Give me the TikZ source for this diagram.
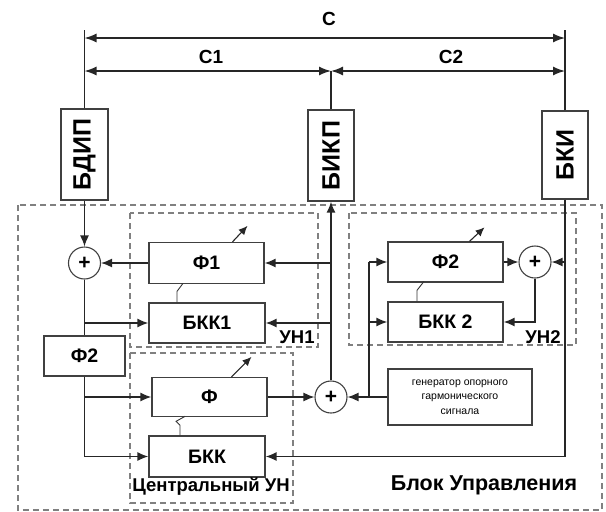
\documentclass[tikz,border=0pt]{standalone}
\usepackage{fontspec}
\setmainfont{Liberation Sans}
\usetikzlibrary{arrows.meta}
\begin{document}
\begin{tikzpicture}[x=1pt,y=-1pt,
  ln/.style={draw=black!85, line width=1.4pt},
  ar/.style={ln, -{Latex[length=11pt,width=9pt]}},
  dimar/.style={ln, {Latex[length=12pt,width=9pt]}-{Latex[length=12pt,width=9pt]}},
  tun/.style={draw=black!85, line width=1.1pt, -{Latex[length=9pt,width=8pt]}},
  sq/.style={draw=black!80, line width=0.9pt},
  blk/.style={draw=black!75, line width=1.3pt, fill=white, inner sep=0pt, font=\bfseries\fontsize{19.5}{20}\selectfont},
  vblk/.style={blk, rotate=90, font=\bfseries\fontsize{25}{26}\selectfont},
  sm/.style={draw=black!75, line width=1.1pt, circle, minimum size=32pt, inner sep=0pt, fill=white, font=\bfseries\fontsize{21}{21}\selectfont},
  dsh/.style={draw=black!50, line width=1.4pt, dash pattern=on 6pt off 4pt},
  lbl/.style={font=\bfseries\fontsize{18.5}{20}\selectfont, inner sep=0pt},
]
\useasboundingbox (0,0) rectangle (606,512);

% dashed frames
\draw[dsh] (18,205) rectangle (602,510);
\draw[dsh] (130,213) rectangle (318,347);
\draw[dsh] (349,213) rectangle (576,345);
\draw[dsh] (130,353) rectangle (293,503);

% top blocks
\node[vblk, minimum width=91pt, minimum height=47pt] (bdip) at (84.5,154.5) {БДИП};
\node[vblk, minimum width=91pt, minimum height=46pt] (bikp) at (331,155.5) {БИКП};
\node[vblk, minimum width=88pt, minimum height=46pt] (bki) at (565,155) {БКИ};

% dimension lines
\coordinate (tL) at (84.5,30);
\coordinate (tR) at (565,30);
\coordinate (cL) at (84.5,38);
\coordinate (cR) at (565,38);
\coordinate (dL) at (84.5,71);
\coordinate (dM) at (331,71);
\coordinate (dR) at (565,71);
\draw[ln] (bdip.east) -- (tL);
\draw[ln] (bki.east) -- (tR);
\draw[ln] (bikp.east) -- (dM);
\draw[dimar] (cL) -- (cR);
\draw[dimar] (dL) -- (dM);
\draw[dimar] (dM) -- (dR);
\node[lbl, font=\bfseries\fontsize{19}{20}\selectfont] (lc) at (329,19) {С};
\node[lbl, font=\bfseries\fontsize{19}{20}\selectfont] (lc1) at (211,57) {С1};
\node[lbl, font=\bfseries\fontsize{19}{20}\selectfont] (lc2) at (451,57) {С2};

% inner blocks
\node[sm] (s1) at (84.5,263) {+};
\node[blk, minimum width=115pt, minimum height=41pt] (f1) at (206.5,263) {Ф1};
\node[blk, minimum width=116pt, minimum height=40pt] (bkk1) at (207,323) {БКК1};
\node[blk, minimum width=81pt, minimum height=40pt] (f2L) at (84.5,356) {Ф2};
\node[blk, minimum width=115pt, minimum height=39pt] (f) at (209.5,397) {Ф};
\node[blk, minimum width=116pt, minimum height=41pt] (bkk) at (207,456.5) {БКК};
\node[sm] (s2) at (331,397) {+};
\node[blk, minimum width=115pt, minimum height=40pt] (f2) at (445.5,262) {Ф2};
\node[blk, minimum width=115pt, minimum height=40pt] (bkk2) at (445.5,322) {БКК 2};
\node[sm] (s3) at (535,262) {+};
\node[draw=black!75, line width=1.3pt, fill=white, minimum width=144pt, minimum height=56pt, inner sep=0pt,
      align=center, font=\fontsize{10.5}{14.5}\selectfont] (gen) at (460,397)
      {генератор опорного\\гармонического\\сигнала};

% labels
\node[lbl] (un1) at (297,337) {УН1};
\node[lbl] (un2) at (543,337) {УН2};
\node[lbl] (cun) at (211,487) {Центральный УН};
\node[lbl, font=\bfseries\fontsize{21.5}{22}\selectfont] (bu) at (484,485) {Блок Управления};

% connectors left
\draw[ar] (bdip.west) -- (s1.north);
\draw[ar] (f1.west) -- (s1.east);
\draw[ln] (s1.south) -- (f2L.north);
\draw[ar] (s1.south |- bkk1.west) -- (bkk1.west);
\coordinate (jb) at (f2L.south |- bkk.west);
\draw[ln] (f2L.south) -- (jb);
\draw[ar] (jb) -- (bkk.west);
\draw[ar] (f2L.south |- f.west) -- (f.west);

% central
\draw[ar] (f.east) -- (s2.west);
\draw[ar] (s2.north) -- (bikp.west);
\draw[ar] (s2.north |- f1.east) -- (f1.east);
\draw[ar] (s2.north |- bkk1.east) -- (bkk1.east);
\draw[ar] (gen.west) -- (s2.east);
\coordinate (jg) at (369,397);
\draw[ln] (jg) -- (jg |- f2.west);
\draw[ar] (jg |- f2.west) -- (f2.west);
\draw[ar] (jg |- bkk2.west) -- (bkk2.west);

% right
\draw[ar] (f2.east) -- (s3.west);
\draw[ar] (bki.west) |- (bkk.east);
\draw[ar] (bki.west |- s3.east) -- (s3.east);
\draw[ar] (s3.south) |- (bkk2.east);

% tuning arrows
\draw[tun] ([xshift=26pt]f1.north) -- ++(15,-16);
\draw[tun] ([xshift=24pt]f2.north) -- ++(15,-14);
\draw[tun] ([xshift=22pt]f.north) -- ++(20,-20);

% coupling squiggles
\draw[sq] ([xshift=-30pt]bkk1.north) -- ++(0,-11) -- ++(6,-8);
\draw[sq] ([xshift=-27pt]bkk.north) -- ++(0,-10) -- ++(-4,-4) -- ++(9,-5);
\draw[sq] ([xshift=-28.5pt]bkk2.north) -- ++(0,-11) -- ++(7,-9);
\end{tikzpicture}
\end{document}
